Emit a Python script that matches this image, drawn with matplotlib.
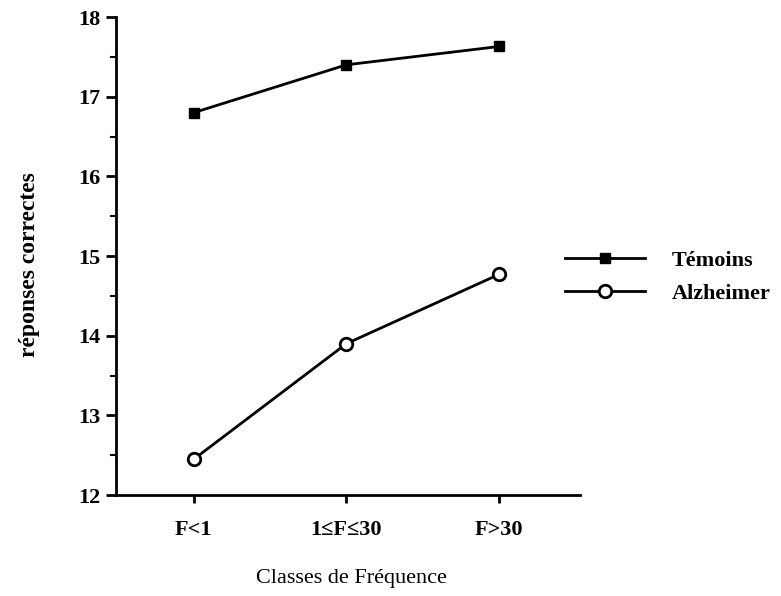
import matplotlib
matplotlib.use("Agg")
import matplotlib.pyplot as plt
from matplotlib.ticker import MultipleLocator

# data
categories = ["F<1", "1≤F≤30", "F>30"]
temoins = [16.8, 17.4, 17.63]
alzheimer = [12.45, 13.9, 14.77]

plt.rcParams['font.family'] = ['Liberation Serif', 'DejaVu Serif']

fig = plt.figure(figsize=(7.81, 5.96), dpi=100)
ax = fig.add_axes([116 / 781, 1 - 495 / 596, (580 - 116) / 781, (495 - 17) / 596])

x = list(range(len(categories)))
l1, = ax.plot(x, temoins, color="black", lw=2, marker="s", ms=7,
              mfc="black", mec="black", label="Témoins")
l2, = ax.plot(x, alzheimer, color="black", lw=2, marker="o", ms=9,
              mfc="white", mec="black", mew=2, label="Alzheimer")

ax.set_xlim(-0.51, 2.53)
ax.set_ylim(12, 18)
ax.set_xticks(x)
ax.set_xticklabels(categories, fontsize=16, fontweight="bold")
ax.yaxis.set_minor_locator(MultipleLocator(0.5))
ax.set_yticks([12, 13, 14, 15, 16, 17, 18])
ax.set_yticklabels(["12", "13", "14", "15", "16", "17", "18"],
                   fontsize=16, fontweight="bold")

ax.tick_params(axis="y", which="major", direction="out", length=7, width=2, pad=4)
ax.tick_params(axis="y", which="minor", direction="out", length=4, width=1.5)
ax.tick_params(axis="x", direction="out", length=6, width=2, pad=12)

for side in ["top", "right"]:
    ax.spines[side].set_visible(False)
for side in ["left", "bottom"]:
    ax.spines[side].set_linewidth(2)

fig.text(30 / 781, 1 - 265 / 596, "réponses correctes", rotation=90,
         ha="center", va="center", fontsize=17, fontweight="bold")
fig.text(351 / 781, 1 - 578 / 596, "Classes de Fréquence",
         ha="center", va="center", fontsize=16)

leg = fig.legend(handles=[l1, l2], loc="center left",
                 bbox_to_anchor=(565 / 781, 1 - 277 / 596),
                 frameon=False, borderpad=0, borderaxespad=0,
                 handlelength=3.6, handletextpad=1.2,
                 labelspacing=0.55, prop={"size": 16, "weight": "bold"})

fig.savefig("out.png", dpi=100)
